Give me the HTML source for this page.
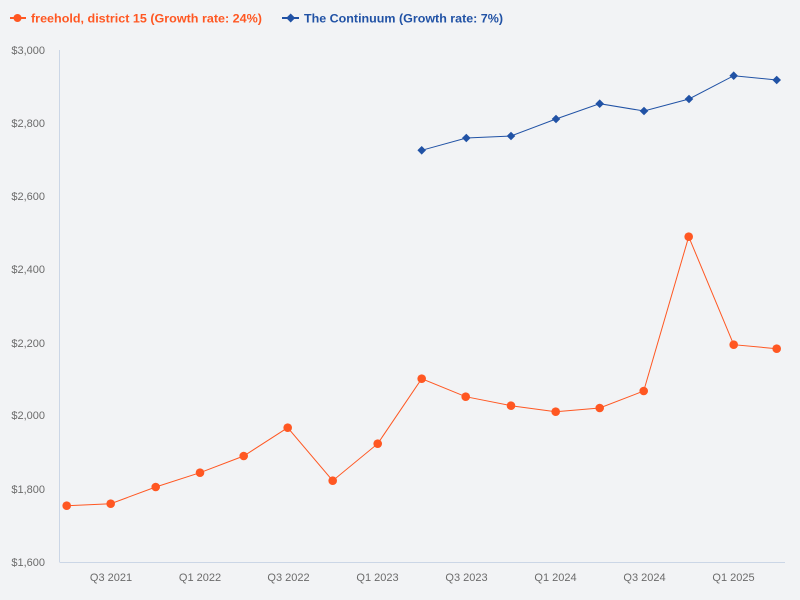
<!DOCTYPE html>
<html>
<head>
<meta charset="utf-8">
<style>
html,body{margin:0;padding:0;background:#f2f3f5;}
svg{display:block;}
text{font-family:"Liberation Sans",sans-serif;}
</style>
</head>
<body>
<svg width="800" height="600" viewBox="0 0 800 600" xmlns="http://www.w3.org/2000/svg">
<rect width="800" height="600" fill="#f2f3f5"/>
<!-- legend -->
<line x1="10" y1="18" x2="26" y2="18" stroke="#ff5722" stroke-width="2"/>
<circle cx="17.5" cy="18" r="4" fill="#ff5722"/>
<text x="31" y="22.5" font-size="12" font-weight="bold" fill="#ff5722" textLength="231" lengthAdjust="spacingAndGlyphs">freehold, district 15 (Growth rate: 24%)</text>
<line x1="282" y1="18" x2="299" y2="18" stroke="#2152a5" stroke-width="2"/>
<polygon points="290.7,13.5 295.2,18 290.7,22.5 286.2,18" fill="#2152a5"/>
<text x="304" y="22.5" font-size="12" font-weight="bold" fill="#2152a5" textLength="199" lengthAdjust="spacingAndGlyphs">The Continuum (Growth rate: 7%)</text>
<!-- axes -->
<line x1="59.5" y1="50" x2="59.5" y2="562" stroke="#cbd6e6" stroke-width="1"/>
<line x1="59.5" y1="562.5" x2="785" y2="562.5" stroke="#cbd6e6" stroke-width="1"/>
<!-- y labels -->
<g font-size="11" fill="#6b6b6b" text-anchor="end">
<text x="45" y="54">$3,000</text>
<text x="45" y="127">$2,800</text>
<text x="45" y="200">$2,600</text>
<text x="45" y="273">$2,400</text>
<text x="45" y="347">$2,200</text>
<text x="45" y="419">$2,000</text>
<text x="45" y="493">$1,800</text>
<text x="45" y="566">$1,600</text>
</g>
<!-- x labels -->
<g font-size="11" fill="#6b6b6b" text-anchor="middle">
<text x="111" y="581">Q3 2021</text>
<text x="200" y="581">Q1 2022</text>
<text x="288.5" y="581">Q3 2022</text>
<text x="377.5" y="581">Q1 2023</text>
<text x="466.5" y="581">Q3 2023</text>
<text x="555.5" y="581">Q1 2024</text>
<text x="644.5" y="581">Q3 2024</text>
<text x="733.5" y="581">Q1 2025</text>
</g>
<!-- orange series -->
<polyline fill="none" stroke="#ff5722" stroke-width="1" points="66.7,505.7 110.7,503.7 155.7,487 200,472.7 243.7,456 287.7,427.7 332.7,480.7 377.7,443.7 421.7,378.7 465.7,396.7 511,405.7 555.7,411.7 599.7,408 643.7,391 688.7,236.7 733.7,344.7 776.7,348.7"/>
<g fill="#ff5722">
<circle cx="66.7" cy="505.7" r="4.3"/>
<circle cx="110.7" cy="503.7" r="4.3"/>
<circle cx="155.7" cy="487" r="4.3"/>
<circle cx="200" cy="472.7" r="4.3"/>
<circle cx="243.7" cy="456" r="4.3"/>
<circle cx="287.7" cy="427.7" r="4.3"/>
<circle cx="332.7" cy="480.7" r="4.3"/>
<circle cx="377.7" cy="443.7" r="4.3"/>
<circle cx="421.7" cy="378.7" r="4.3"/>
<circle cx="465.7" cy="396.7" r="4.3"/>
<circle cx="511" cy="405.7" r="4.3"/>
<circle cx="555.7" cy="411.7" r="4.3"/>
<circle cx="599.7" cy="408" r="4.3"/>
<circle cx="643.7" cy="391" r="4.3"/>
<circle cx="688.7" cy="236.7" r="4.3"/>
<circle cx="733.7" cy="344.7" r="4.3"/>
<circle cx="776.7" cy="348.7" r="4.3"/>
</g>
<!-- blue series -->
<polyline fill="none" stroke="#2152a5" stroke-width="1" points="421.7,150.3 466.3,138 511,136 556,119 599.7,103.7 644,111 689,99 733.7,75.7 776.7,80"/>
<g fill="#2152a5">
<polygon points="421.7,146 426,150.3 421.7,154.6 417.4,150.3"/>
<polygon points="466.3,133.7 470.6,138 466.3,142.3 462,138"/>
<polygon points="511,131.7 515.3,136 511,140.3 506.7,136"/>
<polygon points="556,114.7 560.3,119 556,123.3 551.7,119"/>
<polygon points="599.7,99.4 604,103.7 599.7,108 595.4,103.7"/>
<polygon points="644,106.7 648.3,111 644,115.3 639.7,111"/>
<polygon points="689,94.7 693.3,99 689,103.3 684.7,99"/>
<polygon points="733.7,71.4 738,75.7 733.7,80 729.4,75.7"/>
<polygon points="776.7,75.7 781,80 776.7,84.3 772.4,80"/>
</g>
</svg>
</body>
</html>
